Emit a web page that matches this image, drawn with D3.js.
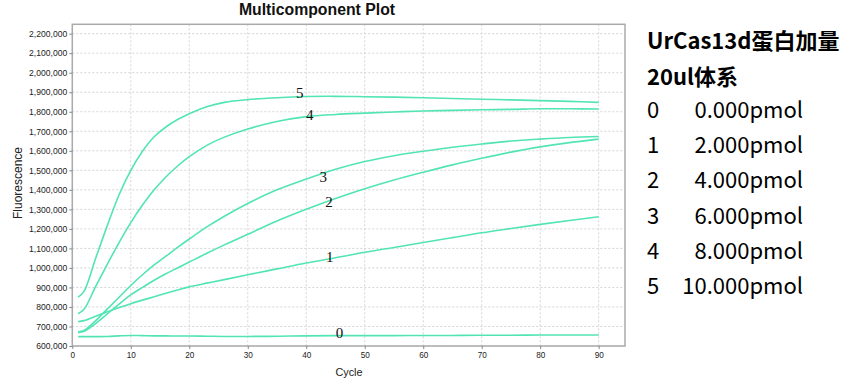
<!DOCTYPE html>
<html><head><meta charset="utf-8">
<script src="https://cdn.jsdelivr.net/npm/d3@7"></script>
<style>
html,body{margin:0;padding:0;background:#fff;}
svg{display:block;}
</style></head>
<body>
<svg id="chart" width="861" height="379"></svg>
<script>
// ---- data ----
const cycles = [1,2,4,6,8,10,12,14,16,18,20,23,26,30,35,40,45,50,55,60,65,70,75,80,85,90];
const series0 = [648,648,648,649,652,654,653,652,652,651,651,650,649,649,650,652,653,653,653,654,654,655,655,656,656,656];
const series1 = [725,730,752,775,797,817,835,852,870,887,903,922,940,965,995,1025,1052,1080,1105,1130,1155,1180,1202,1223,1243,1262];
const series2 = [668,675,715,765,815,862,900,937,970,1000,1030,1075,1118,1172,1240,1300,1355,1405,1450,1490,1528,1562,1593,1620,1642,1660];
const series3 = [673,680,730,790,850,910,965,1015,1060,1105,1148,1210,1265,1330,1400,1455,1505,1545,1575,1598,1618,1635,1650,1660,1668,1673];
const series4 = [765,788,905,1020,1130,1232,1322,1400,1466,1522,1570,1628,1670,1712,1750,1775,1786,1793,1799,1804,1807,1810,1812,1815,1815,1814];
const series5 = [850,880,1050,1218,1375,1500,1598,1672,1722,1760,1790,1826,1848,1862,1872,1878,1879,1877,1875,1872,1868,1864,1861,1857,1853,1848];
const seriesNames = ["0","1","2","3","4","5"];
const labelCycles = [45.7,44.0,43.9,42.9,40.6,38.9];
const labelValues = [665,1054,1339,1467,1783,1894];
const yTicks = [600000,700000,800000,900000,1000000,1100000,1200000,1300000,1400000,1500000,1600000,1700000,1800000,1900000,2000000,2100000,2200000];
const xTicks = [0,10,20,30,40,50,60,70,80,90];
const title = "Multicomponent Plot";
const xTitle = "Cycle";
const yTitle = "Fluorescence";
const legendHead1 = "UrCas13d蛋白加量";
const legendHead2 = "20ul体系";
const legendIds = ["0","1","2","3","4","5"];
const legendAmounts = ["0.000pmol","2.000pmol","4.000pmol","6.000pmol","8.000pmol","10.000pmol"];

const allSeries = [series0,series1,series2,series3,series4,series5];

// ---- layout ----
const svg = d3.select("#chart");
const L = 72.3, R = 625, T = 24.3, B = 346;
const x = d3.scaleLinear().domain([0, 94.5]).range([L, R]);
const y = d3.scaleLinear().domain([600000, 2248000]).range([B, T]);
const lineColor = "#52e5b3";

// grid
const g = svg.append("g");
g.selectAll(".vg").data(xTicks).join("line")
  .attr("x1", d => x(d)).attr("x2", d => x(d)).attr("y1", T).attr("y2", B)
  .attr("stroke", "#d4d4d4").attr("stroke-width", 1).attr("stroke-dasharray", "2,2");
g.selectAll(".hg").data(yTicks).join("line")
  .attr("x1", L).attr("x2", R).attr("y1", d => y(d)).attr("y2", d => y(d))
  .attr("stroke", "#d4d4d4").attr("stroke-width", 1).attr("stroke-dasharray", "2,2");

// frame
svg.append("rect").attr("x", L).attr("y", T).attr("width", R - L).attr("height", B - T)
  .attr("fill", "none").attr("stroke", "#aaa").attr("stroke-width", 1.5);

// axes
const yAxis = d3.axisLeft(y).tickValues(yTicks).tickFormat(d3.format(",")).tickSize(3).tickPadding(2);
const yg = svg.append("g").attr("transform", `translate(${L},0)`).call(yAxis);
yg.select(".domain").remove();
yg.selectAll("line").attr("stroke", "#888");
yg.selectAll("text").attr("font-family", "Liberation Sans, Arial, sans-serif").attr("font-size", "8.6px").attr("fill", "#222");

const xAxis = d3.axisBottom(x).tickValues(xTicks).tickSize(3).tickPadding(3);
const xg = svg.append("g").attr("transform", `translate(0,${B})`).call(xAxis);
xg.select(".domain").remove();
xg.selectAll("line").attr("stroke", "#888");
xg.selectAll("text").attr("font-family", "Liberation Sans, Arial, sans-serif").attr("font-size", "8.2px").attr("fill", "#222");

// titles
svg.append("text").attr("x", 317).attr("y", 14.5).attr("text-anchor", "middle")
  .attr("font-family", "Liberation Sans, Arial, sans-serif").attr("font-weight", "bold").attr("font-size", "15.8px").attr("fill", "#111")
  .text(title);
svg.append("text").attr("x", 349).attr("y", 375.5).attr("text-anchor", "middle")
  .attr("font-family", "Liberation Sans, Arial, sans-serif").attr("font-size", "10.8px").attr("fill", "#222")
  .text(xTitle);
svg.append("text").attr("transform", "translate(21.5,183) rotate(-90)").attr("text-anchor", "middle")
  .attr("font-family", "Liberation Sans, Arial, sans-serif").attr("font-size", "12px").attr("fill", "#222")
  .text(yTitle);

// lines
const line = d3.line().x(d => x(d[0])).y(d => y(d[1] * 1000)).curve(d3.curveCatmullRom.alpha(0.5));
allSeries.forEach(s => {
  svg.append("path").datum(cycles.map((c, i) => [c, s[i]]))
    .attr("d", line).attr("fill", "none").attr("stroke", lineColor).attr("stroke-width", 1.6);
});

// curve labels
svg.selectAll(".lbl").data(seriesNames).join("text")
  .attr("x", (d, i) => x(labelCycles[i])).attr("y", (d, i) => y(labelValues[i] * 1000))
  .attr("text-anchor", "middle").attr("dominant-baseline", "central")
  .attr("font-family", "Liberation Serif, Times New Roman, serif").attr("font-size", "15px").attr("fill", "#111")
  .text(d => d);

// legend text
const lf = "'Noto Sans CJK SC', 'Noto Sans', sans-serif";
svg.append("text").attr("x", 647).attr("y", 48.7).attr("font-family", lf).attr("font-weight", "bold")
  .attr("font-size", "22px").attr("fill", "#000").text(legendHead1);
svg.append("text").attr("x", 647).attr("y", 84.7).attr("font-family", lf).attr("font-weight", "bold")
  .attr("font-size", "22px").attr("fill", "#000").text(legendHead2);
const rowY = d3.scaleLinear().domain([0, 5]).range([118, 294]);
svg.selectAll(".lid").data(legendIds).join("text")
  .attr("x", 647).attr("y", (d, i) => rowY(i)).attr("font-family", lf).attr("font-size", "22px").attr("fill", "#000").text(d => d);
svg.selectAll(".lam").data(legendAmounts).join("text")
  .attr("x", 803).attr("y", (d, i) => rowY(i)).attr("text-anchor", "end").attr("font-family", lf).attr("font-size", "22px").attr("fill", "#000").text(d => d);
</script>
</body></html>
